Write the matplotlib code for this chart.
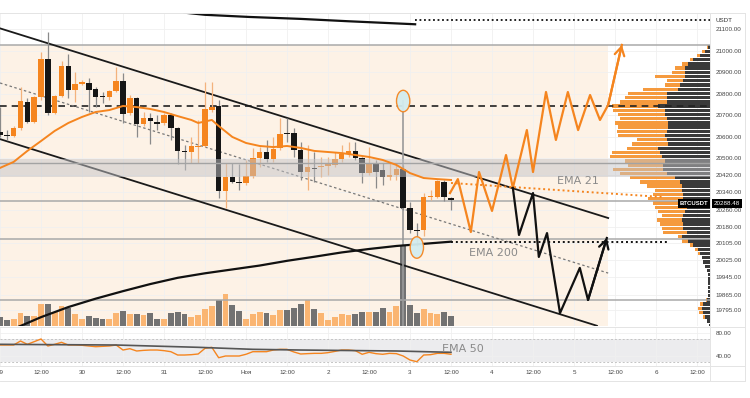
import matplotlib
matplotlib.use("Agg")
import matplotlib.pyplot as plt
import matplotlib.transforms as mtrans
from matplotlib.patches import Rectangle, Ellipse
import numpy as np

plt.rcParams["font.family"] = ["Liberation Sans", "DejaVu Sans"]

# ---- 2h candles, hours counted from 29 Oct 00:00 ----
CANDLE_H = 2
opens = [20621, 20607, 20602, 20640, 20761, 20668, 20784, 20961, 20709, 20788,
         20928, 20816, 20844, 20849, 20821, 20788, 20784, 20812, 20858, 20709,
         20779, 20658, 20686, 20668, 20663, 20700, 20640, 20533, 20528, 20551,
         20556, 20723, 20742, 20347, 20412, 20389, 20384, 20416, 20500, 20528,
         20495, 20547, 20616, 20616, 20537, 20435, 20454, 20458, 20463, 20468,
         20495, 20519, 20533, 20500, 20430, 20477, 20444, 20412, 20421, 20449,
         20268, 20165, 20165, 20319, 20319, 20389, 20314]
highs = [20737, 20630, 20649, 20830, 20779, 20788, 20993, 21086, 20793, 20951,
         20984, 20900, 20863, 20872, 20830, 20807, 20816, 20923, 20895, 20793,
         20784, 20714, 20709, 20700, 20709, 20709, 20644, 20561, 20598, 20677,
         20854, 20854, 20770, 20477, 20477, 20472, 20491, 20547, 20551, 20584,
         20598, 20686, 20686, 20640, 20574, 20561, 20528, 20505, 20505, 20528,
         20561, 20574, 20574, 20505, 20551, 20491, 20477, 20477, 20477, 20468,
         20296, 20198, 20337, 20351, 20398, 20398, 20319]
lows = [20598, 20584, 20598, 20630, 20663, 20663, 20770, 20700, 20705, 20784,
        20779, 20761, 20840, 20714, 20737, 20756, 20770, 20807, 20663, 20700,
        20598, 20649, 20565, 20630, 20654, 20584, 20472, 20444, 20477, 20477,
        20551, 20714, 20314, 20268, 20384, 20351, 20375, 20407, 20458, 20481,
        20481, 20537, 20574, 20505, 20398, 20351, 20389, 20412, 20421, 20458,
        20481, 20505, 20491, 20384, 20421, 20361, 20375, 20398, 20398, 20258,
        20151, 20090, 20137, 20305, 20314, 20300, 20258]
closes = [20607, 20602, 20640, 20765, 20668, 20784, 20961, 20709, 20788, 20928,
          20816, 20844, 20854, 20816, 20784, 20784, 20812, 20858, 20705, 20779,
          20658, 20686, 20672, 20658, 20700, 20640, 20533, 20528, 20556, 20556,
          20728, 20737, 20347, 20412, 20389, 20384, 20416, 20500, 20528, 20495,
          20542, 20612, 20612, 20537, 20435, 20458, 20449, 20463, 20472, 20495,
          20519, 20533, 20500, 20430, 20477, 20435, 20412, 20421, 20449, 20268,
          20165, 20161, 20319, 20323, 20393, 20319, 20305]
volume = [9, 5.7, 7.3, 13.5, 10, 9.7, 22.3, 22.3, 14, 19.7,
          18, 12.3, 7.2, 10.3, 8.3, 7.3, 7.3, 13.3, 15.3, 12.3,
          12.3, 10.7, 13, 6.7, 6.7, 12.7, 14, 12.3, 9, 10.7,
          16.7, 19.7, 26.3, 32.3, 21.5, 15.2, 7.3, 12.3, 14, 13.3,
          10.8, 16.3, 16, 18.3, 22.3, 25.7, 17.3, 12.7, 6.5, 9,
          12.3, 10.7, 12, 14, 14, 14, 18, 14, 19.7, 81,
          21.3, 13.3, 16.7, 13.3, 11.7, 14, 10.3]

ema21_idx = [0, 2, 4, 6, 8, 10, 12, 14, 16, 18, 20, 22, 24, 26, 28, 29, 31, 32,
             34, 36, 38, 40, 42, 44, 46, 48, 50, 52, 54, 56, 58, 60, 62, 64, 66]
ema21 = [20454, 20482, 20533, 20579, 20626, 20663, 20691, 20714, 20723, 20742,
         20737, 20728, 20714, 20695, 20677, 20663, 20677, 20649, 20598, 20570,
         20556, 20551, 20556, 20547, 20533, 20528, 20523, 20514, 20505, 20491,
         20468, 20430, 20407, 20402, 20398]
ema200_idx = [0, 3, 6, 10, 14, 18, 22, 26, 30, 34, 38, 42, 46, 50, 54, 58, 62, 66]
ema200 = [19682, 19719, 19760, 19807, 19846, 19881, 19914, 19943, 19964, 19982,
          20000, 20022, 20041, 20061, 20077, 20091, 20101, 20111]

# higher-timeframe average leaving the top of the chart
htf_hours = [54, 60, 73, 88, 102, 121.5]
htf_price = [21176, 21166, 21156, 21147, 21136, 21122]

rsi = [59.1, 59.1, 59.1, 66.1, 60.3, 64.9, 69.6, 57.4, 60.3, 63.8,
       59.1, 59.1, 58.6, 57.4, 56.2, 56.8, 57.4, 59.1, 50.4, 52.7,
       48.7, 49.8, 50.4, 50.4, 49.3, 47.5, 41.7, 41.7, 42.3, 43.5,
       53.3, 55.1, 37.0, 40.0, 40.0, 40.0, 43.0, 47.5, 47.5, 47.5,
       50.4, 51.6, 51.6, 47.0, 43.5, 44.1, 44.6, 44.6, 45.8, 48.0,
       50.4, 50.4, 49.3, 43.0, 46.4, 44.1, 43.0, 44.6, 44.1, 40.0,
       33.0, 30.1, 41.7, 42.3, 44.6, 44.6, 43.0]
rsi_ema_idx = [0, 17, 29, 37, 44, 58, 66]
rsi_ema = [60.3, 59.1, 55.1, 51.6, 50.4, 48.7, 46.4]

# projected paths (hours, price)
bull_h = [131.7, 134.0, 137.8, 140.2, 144.0, 148.1, 150.1, 154.2, 156.0, 159.8,
          162.7, 166.2, 169.2, 172.7, 175.6, 178.0, 182.0]
bull_p = [20337, 20402, 20156, 20435, 20254, 20514, 20361, 20630, 20435, 20807,
          20584, 20807, 20630, 20793, 20677, 20747, 21026]
bear_h = [150.1, 151.9, 156.0, 157.7, 160.1, 163.9, 169.7, 172.1, 177.6]
bear_p = [20361, 20142, 20337, 20040, 20151, 19779, 19989, 19840, 20128]

# channel (start hour, start price, end hour, end price)
chan_upper = (0, 21103, 178, 20221)
chan_mid = (0, 20849, 178, 19965)
chan_lower = (0, 20588, 174.7, 19720)

levels_solid = [21026, 20298, 20124, 19840]
level_dashed = 20742
band_lo, band_hi, band_line = 20412, 20495, 20477
zone_end_h, zone_top = 178, 21026

# volume profile rows (top price, step) and widths
prof_top, prof_step = 21016, 19.6
prof_sell = [1.7, 5, 10, 16.7, 21.7, 25, 25, 25, 26.7, 30,
             31.7, 43.3, 43.3, 43.3, 51.7, 45, 45, 43.3, 41.7, 41.7,
             43.3, 45, 43.3, 41.7, 51.7, 50, 48.3, 45, 46.7, 46.7,
             43.3, 35, 30, 28.3, 28.3, 26.7, 26.7, 25, 23.3, 25,
             26.7, 28.3, 26.7, 26.7, 23.3, 28.3, 21.7, 16.7, 11.7, 10,
             8.3, 6.7, 5, 2.7, 1.7, 1.7, 1.7, 1.7, 1.7, 2,
             3.3, 6.7, 8.3, 6.7, 5, 2.7, 0.7]
prof_total = [3.3, 8.3, 13.3, 20, 28.3, 35, 38.3, 55, 43.3, 45,
              66.7, 81.7, 85, 90, 98.3, 96.7, 91.7, 90, 95, 91.7,
              93.3, 91.7, 73.3, 78.3, 83.3, 98.3, 100, 85, 81.7, 96.7,
              90, 80, 70, 63.3, 55, 56.7, 61.7, 56.7, 55, 51.7,
              48.3, 53.3, 50, 48.3, 46.7, 31.7, 28.3, 20, 15, 11.7,
              8.3, 6.7, 5, 2.7, 1.7, 1.7, 1.7, 1.7, 1.7, 2,
              4, 10, 11.7, 10.7, 6.7, 3.3, 0.7]

price_ticks = [21100, 21000, 20900, 20800, 20700, 20600, 20500, 20420, 20340,
               20260, 20180, 20105, 20025, 19945, 19865, 19795]
time_ticks = list(range(0, 205, 12))
time_labels = ["29", "12:00", "30", "12:00", "31", "12:00", "Ноя", "12:00",
               "2", "12:00", "3", "12:00", "4", "12:00", "5", "12:00", "6", "12:00"]
last_price = 20288.48

ORANGE = "#f5851f"
BLACK = "#161616"

W, H = 750, 398


def box(x0, y0, x1, y1):
    return [x0 / W, 1 - y1 / H, (x1 - x0) / W, (y1 - y0) / H]


fig = plt.figure(figsize=(7.5, 3.98), dpi=100)
ax = fig.add_axes(box(0, 13, 710, 326))
rax = fig.add_axes(box(0, 328, 710, 366), sharex=ax)

YLO, YHI = 19718.9, 21174.4
ax.set_xlim(0, 207.8)
ax.set_ylim(YLO, YHI)
rax.set_ylim(22.6, 88.7)

for a in (ax, rax):
    for s in a.spines.values():
        s.set_visible(False)
    a.grid(True, color="#f0f0f0", lw=0.6)
    a.set_axisbelow(True)

t = np.arange(len(opens)) * CANDLE_H
o, h, l, c = (np.array(v, float) for v in (opens, highs, lows, closes))
up = c >= o

# background zone
ax.add_patch(Rectangle((0, YLO), zone_end_h, zone_top - YLO, fc="#fdf2e6",
                       ec="none", zorder=0.5))

# volume
vol_scale = 4.65
ax.bar(t, np.array(volume) * vol_scale, bottom=YLO, width=1.75,
       color=np.where(up, "#fab572", "#727272"), zorder=1)

# volume profile
prof = ax.inset_axes([1 - 115 / 710, 0, 115 / 710, 1], sharey=ax, zorder=1.2)
prof.set_xlim(115, 0)
prof.axis("off")
lev = prof_top - prof_step * np.arange(len(prof_sell))
sell = np.array(prof_sell)
buy = np.array(prof_total) - sell
prof.barh(lev, sell, height=prof_step * 0.8, color="#3a3a3a")
prof.barh(lev, buy, left=sell, height=prof_step * 0.8, color="#f59a3e")

# horizontal levels
for lv in levels_solid:
    ax.axhline(lv, color="#a9a9a9", lw=1.1, zorder=1.5)
ax.axhline(level_dashed, color="#222", lw=1.2, ls=(0, (4, 3)), zorder=2)
ax.axhspan(band_lo, band_hi, color="#c4c4c8", alpha=0.5, lw=0, zorder=3.5)
ax.axhline(band_line, color="#a3a3a3", lw=1, zorder=3.5)

# channel
for (h0, p0, h1, p1), ls, col, lw in ((chan_upper, "-", "#1a1a1a", 1.3),
                                      (chan_lower, "-", "#1a1a1a", 1.3),
                                      (chan_mid, (0, (2, 2)), "#777", 0.9)):
    ax.plot([h0, h1], [p0, p1], ls=ls, color=col, lw=lw, zorder=2)

# marker line at the big candle
ax.vlines(t[59], YLO, 20770, color="#9a9a9a", lw=1.2, zorder=2.5)

# candles
ax.vlines(t[up], l[up], h[up], color="#f3b27c", lw=0.9, zorder=2.8)
ax.vlines(t[~up], l[~up], h[~up], color="#8a8a8a", lw=0.9, zorder=2.8)
lo = np.minimum(o, c)
bh = np.maximum(np.abs(c - o), 5)
ax.bar(t[up], bh[up], bottom=lo[up], width=1.6, color=ORANGE, zorder=3)
ax.bar(t[~up], bh[~up], bottom=lo[~up], width=1.6, color=BLACK, zorder=3)

# moving averages
ax.plot(np.array(ema21_idx) * CANDLE_H, ema21, color=ORANGE, lw=1.4, zorder=3.6)
ax.plot(np.array(ema200_idx) * CANDLE_H, ema200, color="#111", lw=1.6, zorder=3.6)
ax.plot([t[-1], 193.7], [20384, 20319], color=ORANGE, lw=1.4, ls=(0, (1, 1.5)), zorder=3.6)
ax.plot([t[-1], 195.2], [ema200[-1], ema200[-1]], color="#111", lw=1.4,
        ls=(0, (1, 1.5)), zorder=3.6)
ax.plot(htf_hours, htf_price, color="#111", lw=1.6, zorder=3.6)
ax.plot([htf_hours[-1], 207.8], [21142, 21142], color="#111", lw=1.3,
        ls=(0, (1, 1.5)), zorder=3.6)

# projections
ax.plot(bull_h, bull_p, color=ORANGE, lw=1.6, zorder=4)
ax.plot(bear_h, bear_p, color="#111", lw=1.6, zorder=4)
for hh, pp, col in ((bull_h, bull_p, ORANGE), (bear_h, bear_p, "#111")):
    ax.annotate("", xy=(hh[-1], pp[-1]), xytext=(hh[-2], pp[-2]),
                arrowprops=dict(arrowstyle="->,head_length=0.6,head_width=0.35",
                                color=col, lw=1.6, shrinkA=0, shrinkB=0), zorder=4)

for cx, cy in ((118, 20765), (122, 20084)):
    ax.add_patch(Ellipse((cx, cy), 3.9, 100, fc="#d3ecef", ec=ORANGE, lw=1,
                         alpha=0.95, zorder=4.5))

txt = dict(color="#8a8a8a", fontsize=8, ha="center", va="center",
           family=["DejaVu Sans"], zorder=5)
ax.text(169.2, 20393, "EMA 21", **txt)
ax.text(144.3, 20058, "EMA 200", **txt)
rax.text(135.5, 52.2, "EMA 50", **txt)

# price axis
ax.yaxis.tick_right()
ax.set_yticks(price_ticks)
ax.set_yticklabels([f"{v:.2f}" for v in price_ticks])
ax.tick_params(axis="y", length=0, pad=4, labelsize=4.5, labelcolor="#444")
ax.tick_params(axis="x", length=0, labelbottom=False)
tr = mtrans.blended_transform_factory(ax.transAxes, ax.transData)
ax.text(1 + 17 / 710, last_price, f"{last_price:.2f}", transform=tr, ha="center",
        va="center", color="white", fontsize=4.5, clip_on=False, zorder=6,
        bbox=dict(fc="black", ec="none", pad=1.2))
ax.text(997 / 1000, last_price, "BTCUSDT", transform=tr, ha="right", va="center",
        color="white", fontsize=4.3, fontweight="bold", zorder=6,
        bbox=dict(fc="black", ec="none", pad=1.2))
fig.text(715 / W, 1 - 20 / H, "USDT", fontsize=4.5, color="#333", va="center")

# RSI pane
rax.axhspan(30, 70, color="#ececee", lw=0, zorder=0.5)
for lv in (30, 70):
    rax.axhline(lv, color="#c4c4c4", lw=0.7, ls=(0, (2, 2)), zorder=0.6)
rax.plot(t, rsi, color=ORANGE, lw=1, zorder=2)
rax.plot(np.array(rsi_ema_idx) * CANDLE_H, rsi_ema, color="#555", lw=1.2, zorder=2)
rax.yaxis.tick_right()
rax.set_yticks([80, 40])
rax.set_yticklabels(["80.00", "40.00"])
rax.tick_params(axis="y", length=0, pad=4, labelsize=4.5, labelcolor="#444")
rax.set_xticks(time_ticks)
rax.set_xticklabels(time_labels)
rax.tick_params(axis="x", length=0, pad=3, labelsize=4.5, labelcolor="#444")

# pane separators
for y in (13, 327, 366, 381):
    fig.add_artist(plt.Line2D([0, 745 / W], [1 - y / H] * 2, color="#e4e4e4", lw=0.7))
for x in (710, 745):
    fig.add_artist(plt.Line2D([x / W] * 2, [1 - 381 / H, 1 - 13 / H], color="#e4e4e4", lw=0.7))

fig.savefig("out.png", dpi=100)
